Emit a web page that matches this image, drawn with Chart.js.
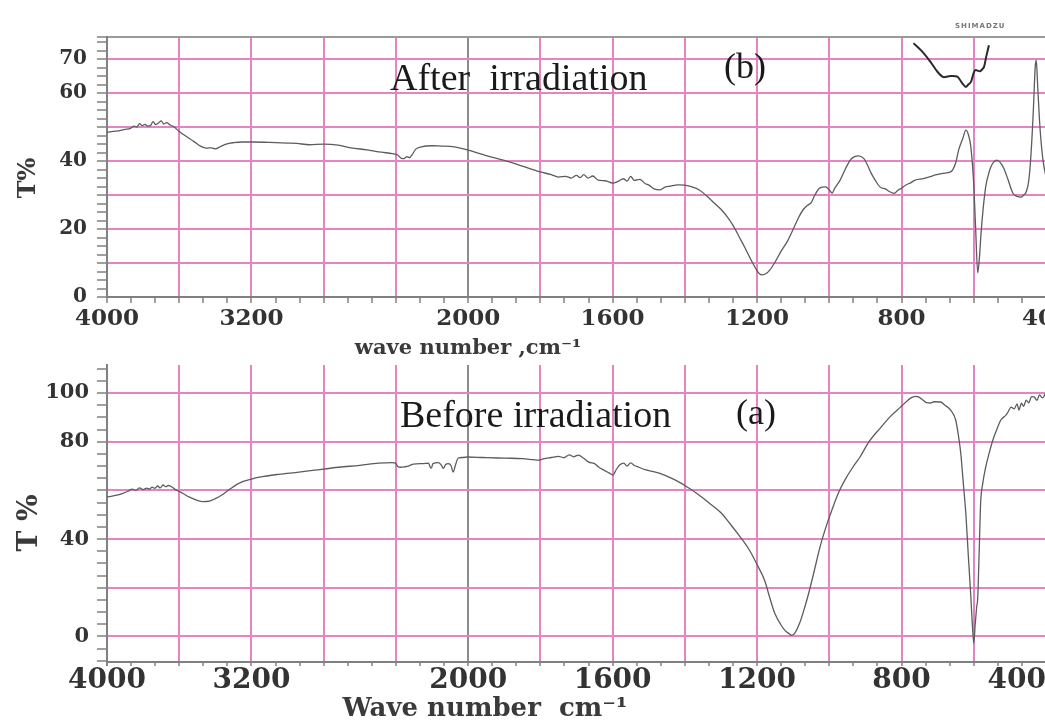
<!DOCTYPE html>
<html>
<head>
<meta charset="utf-8">
<script src="https://cdn.jsdelivr.net/npm/chart.js@4.4.1/dist/chart.umd.min.js"></script>
<style>
  body { margin: 0; width: 1045px; height: 720px; overflow: hidden; background: #fff; position: relative; }
  canvas { position: absolute; left: 0; }
  .txt { position: absolute; white-space: nowrap; line-height: 1; color: #1a1a1a; }
  .serif { font-family: "Liberation Serif", serif; }
  .axis { font-family: "DejaVu Serif", serif; font-weight: bold; color: #3a3a3a; }
</style>
</head>
<body>
<canvas id="after" width="1100" height="360" style="top:0"></canvas>
<canvas id="before" width="1100" height="360" style="top:360px"></canvas>

<div class="txt serif" style="left:390px; top:58px; font-size:38px;">After&nbsp; irradiation</div>
<div class="txt serif" style="left:724px; top:48px; font-size:36px;">(b)</div>
<div class="txt serif" style="left:400px; top:395px; font-size:38px;">Before irradiation</div>
<div class="txt serif" style="left:736px; top:394px; font-size:36px;">(a)</div>

<div class="txt axis" style="left:468px; top:336px; font-size:21px; transform:translateX(-50%);">wave number ,cm⁻¹</div>
<div class="txt axis" style="left:485px; top:694px; font-size:26px; transform:translateX(-50%);">Wave number&nbsp; cm⁻¹</div>
<div class="txt axis" style="left:27px; top:178px; font-size:24px; transform:translate(-50%,-50%) rotate(-90deg);">T%</div>
<div class="txt axis" style="left:28px; top:523px; font-size:28px; transform:translate(-50%,-50%) rotate(-90deg);">T %</div>
<div class="txt" style="left:955px; top:23px; font-family:'DejaVu Sans',sans-serif; font-size:7px; font-weight:bold; color:#777; letter-spacing:1px;">SHIMADZU</div>

<script>
// tick labels and grid positions (wave numbers, cm-1)
const xTickLabels = [4000, 3200, 2000, 1600, 1200, 800, 400];
const xGridLines = [4000, 3600, 3200, 2800, 2400, 2000, 1800, 1600, 1400, 1200, 1000, 800, 600, 400];
const yLabelsAfter = [0, 20, 40, 60, 70];
const yLabelsBefore = [0, 40, 80, 100];

// (b) after irradiation
const waveAfter = [4000, 3950, 3900, 3870, 3850, 3835, 3820, 3805, 3790, 3775, 3760, 3745, 3730, 3715, 3700, 3685, 3670, 3650, 3630, 3600,
  3560, 3520, 3480, 3450, 3420, 3400, 3370, 3340, 3300, 3250, 3200, 3100, 3000, 2950, 2880, 2800, 2720, 2650, 2560, 2480,
  2420, 2390, 2370, 2355, 2340, 2325, 2310, 2290, 2260, 2200, 2150, 2100, 2050, 2000, 1950, 1900, 1850, 1800, 1770, 1750,
  1730, 1715, 1700, 1690, 1680, 1668, 1655, 1640, 1620, 1600, 1585, 1570, 1560, 1550, 1540, 1525, 1510, 1499, 1485, 1470,
  1455, 1440, 1420, 1400, 1380, 1360, 1340, 1318, 1300, 1282, 1265, 1249, 1235, 1221, 1205, 1195, 1185, 1175, 1165, 1150,
  1135, 1115, 1101, 1085, 1073, 1060, 1050, 1040, 1026, 1010, 1000, 992, 985, 970, 955, 942, 930, 920, 905, 895,
  885, 873, 860, 845, 831, 820, 810, 800, 789, 775, 762, 740, 720, 706, 685, 664, 650, 642, 630, 622,
  615, 608, 600, 595, 589, 584, 580, 574, 567, 560, 553, 545, 536, 527, 517, 505, 492, 480, 469, 460,
  455, 448, 442, 435, 430, 427, 423, 418, 414, 408, 400];
const tAfter = [48.5, 48.8, 49.3, 49.6, 50.3, 50.0, 51.0, 50.4, 50.8, 50.3, 50.4, 51.6, 50.7, 51.2, 51.8, 50.9, 51.3, 50.6, 50.1, 48.7,
  47.2, 45.8, 44.3, 43.8, 43.9, 43.6, 44.3, 45.0, 45.4, 45.6, 45.6, 45.5, 45.3, 45.2, 44.8, 45.0, 44.7, 43.9, 43.3, 42.6,
  42.2, 41.8, 40.8, 40.7, 41.3, 41.0, 41.9, 43.5, 44.2, 44.5, 44.4, 44.3, 43.9, 43.2, 41.6, 40.2, 38.5, 36.8, 36.0, 35.3,
  35.5, 35.0, 35.8, 35.1, 36.0, 35.0, 35.6, 34.4, 34.2, 33.5, 34.0, 34.8, 34.1, 35.5, 34.3, 34.6, 33.4, 32.9, 31.8, 31.5,
  32.3, 32.6, 33.0, 32.9, 32.4, 31.5, 29.8, 27.6, 25.8, 23.5, 20.8, 17.6, 14.8, 11.8, 8.6, 7.0, 6.5, 6.9, 7.9, 10.3,
  13.2, 16.6, 19.7, 23.4, 25.6, 27.0, 27.8, 30.0, 32.1, 32.4, 31.5, 30.6, 32.0, 34.4, 37.8, 40.3, 41.3, 41.5, 40.8, 39.0,
  36.6, 34.4, 32.4, 31.8, 30.9, 30.5, 31.4, 32.0, 32.9, 33.6, 34.4, 34.8, 35.4, 35.9, 36.4, 36.8, 39.5, 43.2, 46.8, 49.1,
  47.8, 44.1, 33.0, 20.6, 7.1, 12.0, 18.5, 26.0, 32.4, 35.8, 38.2, 39.7, 40.3, 39.6, 37.9, 34.5, 30.6, 29.6, 29.4, 30.2,
  30.9, 34.0, 41.2, 55.0, 67.5, 69.7, 62.0, 52.0, 46.2, 40.0, 35.3];

// little magnified trace printed in the top right corner of (b)
const waveInset = [767, 745, 722, 700, 684, 665, 645, 630, 622, 615, 608, 600, 595, 583, 572, 566, 558];
const tInset = [74.7, 72.5, 69.5, 66.2, 64.7, 65.0, 64.8, 62.6, 61.8, 62.5, 63.2, 66.0, 66.8, 66.4, 67.6, 70.5, 74.1];

// (a) before irradiation
const waveBefore = [4000, 3960, 3912, 3880, 3860, 3840, 3820, 3800, 3780, 3765, 3750, 3735, 3720, 3705, 3690, 3675, 3660, 3640, 3625, 3590,
  3543, 3500, 3470, 3433, 3400, 3366, 3320, 3267, 3200, 3157, 3050, 2937, 2850, 2716, 2600, 2496, 2420, 2402, 2390, 2375,
  2350, 2330, 2303, 2250, 2220, 2210, 2204, 2195, 2165, 2145, 2138, 2125, 2110, 2095, 2083, 2070, 2055, 2030, 2000, 1960,
  1917, 1880, 1850, 1820, 1805, 1790, 1770, 1750, 1735, 1720, 1708, 1695, 1680, 1666, 1650, 1640, 1624, 1610, 1599, 1590,
  1580, 1569, 1560, 1550, 1540, 1527, 1510, 1490, 1471, 1430, 1388, 1360, 1332, 1300, 1276, 1250, 1221, 1200, 1179, 1165,
  1151, 1135, 1123, 1110, 1104, 1095, 1082, 1068, 1054, 1040, 1026, 1008, 990, 973, 957, 935, 915, 890, 859, 830,
  803, 790, 775, 762, 753, 740, 730, 720, 710, 692, 680, 664, 650, 643, 636, 629, 622, 615, 608, 604,
  600, 596, 592, 589, 585, 581, 575, 567, 557, 547, 535, 525, 511, 504, 497, 488, 480, 475, 468, 462,
  455, 448, 440, 433, 425, 418, 410, 400];
const tBefore = [57.2, 57.8, 58.8, 59.8, 60.5, 60.0, 61.0, 60.3, 60.9, 60.5, 61.3, 60.8, 61.8, 61.0, 62.2, 61.5, 62.0, 61.4, 60.5, 59.2,
  57.2, 55.9, 55.4, 55.6, 56.6, 58.0, 60.5, 63.0, 64.6, 65.4, 66.6, 67.5, 68.3, 69.5, 70.3, 71.2, 71.4, 71.2, 69.8, 69.5,
  69.7, 70.0, 70.8, 71.0, 71.2, 69.5, 69.1, 71.0, 71.4, 70.0, 69.0, 70.6, 71.0, 70.2, 67.5, 70.5, 73.3, 73.5, 73.7, 73.5,
  73.3, 73.2, 73.0, 72.6, 72.4, 73.0, 73.5, 74.0, 73.4, 74.6, 73.8, 74.5, 73.2, 71.6, 71.0, 69.7, 68.3, 67.2, 66.3, 68.5,
  70.5, 71.2, 70.0, 71.3, 70.2, 69.5, 68.5, 67.8, 67.1, 64.5, 60.9, 58.0, 54.7, 50.8, 46.5, 41.5, 35.4, 29.5, 23.0, 16.0,
  9.5, 5.0, 2.5, 1.0, 0.4, 1.5, 5.5, 12.0, 19.5, 28.0, 36.6, 45.5, 53.1, 59.5, 64.2, 69.5, 73.7, 80.0, 85.6, 90.5,
  94.2, 96.0, 97.9, 98.6, 98.4, 97.0, 96.0, 95.9, 96.4, 96.3, 95.0, 93.0, 88.9, 83.0, 75.3, 63.0, 50.6, 33.0, 16.0, 5.0,
  -2.9, 5.0, 12.0, 16.0, 35.0, 54.7, 63.0, 69.5, 75.5, 80.7, 85.5, 88.9, 90.9, 92.5, 94.2, 93.5, 95.5, 93.0, 95.8, 94.5,
  97.1, 96.0, 98.5, 98.4, 97.0, 99.2, 98.0, 100.4];

// the instrument plots 4000-2000 at half the scale of 2000-400
function toAxis(wn) { return wn > 2000 ? 2000 + (wn - 2000) / 2 : wn; }
function fromAxis(u) { return u > 2000 ? 2000 + (u - 2000) * 2 : u; }

const pink = "#e584c3";
const axisGrey = "#808080";

function xTickList(extraLast) {
  const pos = xGridLines.map(toAxis).sort((a, b) => a - b);
  const out = [];
  pos.forEach((p, i) => {
    out.push({ value: p });
    if (i < pos.length - 1) {
      const step = (pos[i + 1] - p) / 3;
      out.push({ value: p + step }, { value: p + 2 * step });
    }
  });
  // blank tick on the left edge, so with align "inner" only the 400 label gets pulled inside
  if (extraLast) out.push({ value: pos[pos.length - 1], blank: true });
  return out;
}

function yTickList(max, minorStep) {
  const out = [];
  for (let v = 0; v <= max + 0.001; v += minorStep) out.push({ value: v });
  return out;
}

function toPoints(waves, values) {
  return waves.map((w, i) => ({ x: toAxis(w), y: values[i] }));
}

function makeChart(id, datasets, cfg) {
  return new Chart(document.getElementById(id), {
    type: "line",
    data: { datasets: datasets },
    options: {
      responsive: false,
      animation: false,
      layout: { padding: { left: 0, top: cfg.top, right: 54, bottom: 0 } },
      plugins: { legend: { display: false }, tooltip: { enabled: false } },
      scales: {
        x: {
          type: "linear",
          reverse: true,
          min: 400,
          max: 3000,
          afterBuildTicks: s => { s.ticks = xTickList(cfg.inner); },
          afterFit: s => { s.height = cfg.xHeight; s.paddingLeft = 0; s.paddingRight = 0; },
          border: { color: axisGrey, width: 2 },
          grid: {
            color: c => {
              const wn = Math.round(fromAxis(c.tick.value));
              if (c.tick.blank || !xGridLines.includes(wn)) return "rgba(0,0,0,0)";
              return wn === 2000 ? "#8c8c8c" : pink;
            },
            lineWidth: 2,
            tickColor: axisGrey,
            tickWidth: 1.5,
            tickLength: cfg.xTickLen
          },
          ticks: {
            autoSkip: false,
            maxRotation: 0,
            align: cfg.inner ? "inner" : "center",
            padding: cfg.xPad,
            color: "#333",
            font: { family: "DejaVu Serif", weight: "bold", size: cfg.xFont },
            callback: (v, i, ticks) => {
              if (ticks[i].blank) return "";
              const wn = Math.round(fromAxis(v));
              return xTickLabels.includes(wn) ? String(wn) : "";
            }
          }
        },
        y: {
          min: cfg.yMin,
          max: cfg.yMax,
          afterBuildTicks: s => { s.ticks = cfg.yTicks; },
          afterFit: s => { s.width = 107; s.paddingTop = 0; s.paddingBottom = 0; },
          border: { color: axisGrey, width: 2 },
          grid: {
            color: c => {
              const v = c.tick.value;
              if (Math.abs(v - cfg.yMax) < 0.01) return cfg.topBorder;
              return Math.abs(v % cfg.yMajor) < 0.01 ? pink : "rgba(0,0,0,0)";
            },
            lineWidth: 2,
            tickColor: axisGrey,
            tickWidth: 1.5,
            tickLength: 10
          },
          ticks: {
            autoSkip: false,
            padding: cfg.yPad,
            color: "#333",
            font: { family: "DejaVu Serif", weight: "bold", size: cfg.yFont },
            callback: v => cfg.yLabels.some(l => Math.abs(l - v) < 0.01) ? String(Math.round(v)) : ""
          }
        }
      }
    }
  });
}

const traceStyle = { borderColor: "#5c5c5c", borderWidth: 1.3, pointRadius: 0, cubicInterpolationMode: "monotone" };

makeChart("after", [
  Object.assign({ data: toPoints(waveAfter, tAfter) }, traceStyle),
  { data: toPoints(waveInset, tInset), borderColor: "#2a2a2a", borderWidth: 2, pointRadius: 0, tension: 0.2 }
], {
  top: 37, xHeight: 63, xTickLen: 6, xPad: 2, xFont: 23, inner: false,
  yMin: 0, yMax: 76.5, yMajor: 10, yFont: 20, yPad: 10,
  yLabels: yLabelsAfter, topBorder: "#9a9a9a",
  yTicks: yTickList(75, 2.5).concat([{ value: 76.5 }])
});

makeChart("before", [
  Object.assign({ data: toPoints(waveBefore, tBefore) }, traceStyle)
], {
  top: 5, xHeight: 58, xTickLen: 4, xPad: -2, xFont: 28, inner: true,
  yMin: -10.5, yMax: 111.5, yMajor: 20, yFont: 21, yPad: 8,
  yLabels: yLabelsBefore, topBorder: "rgba(0,0,0,0)",
  yTicks: [{ value: -10 }, { value: -5 }].concat(yTickList(110, 5))
});
</script>
</body>
</html>
